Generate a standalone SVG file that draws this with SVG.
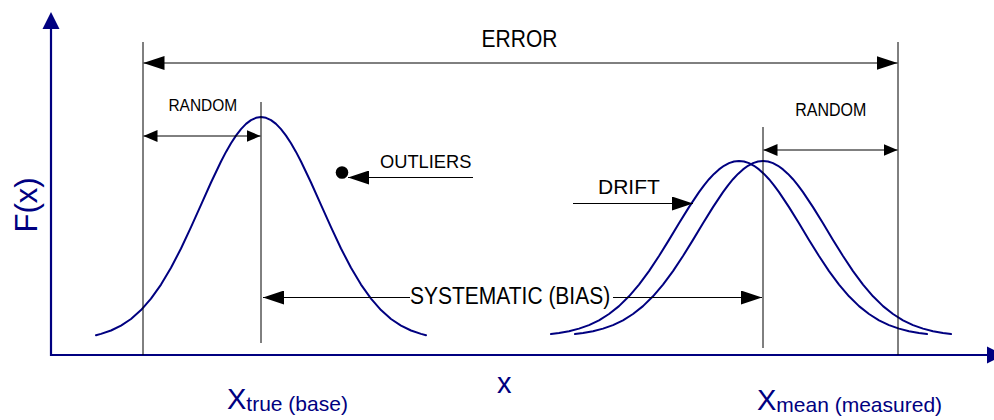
<svg xmlns="http://www.w3.org/2000/svg" xmlns:xlink="http://www.w3.org/1999/xlink" width="994" height="420" viewBox="0 0 994 420">
  <style>
    .lbl { font-family: "Liberation Sans", Arial, sans-serif; fill: #000; }
    .ax { font-family: "Liberation Sans", Arial, sans-serif; fill: #000080; }
    .bell { fill: none; stroke: #000080; stroke-width: 2; stroke-linejoin: round; stroke-linecap: round; }
    .axis { fill: none; stroke: #000080; stroke-width: 2.2; }
    .dim { fill: none; stroke: #000; stroke-width: 1; }
    .big { marker-end: url(#ah); }
    .bigs { marker-start: url(#ah); marker-end: url(#ah); }
    .sm2 { marker-start: url(#as); marker-end: url(#as); }
  </style>
  <defs>
    <marker id="ah" viewBox="0 0 21 14" refX="21" refY="7" markerWidth="21" markerHeight="14" markerUnits="userSpaceOnUse" orient="auto-start-reverse">
      <path d="M0,0 L21,7 L0,14 z" fill="#000"/>
    </marker>
    <marker id="as" viewBox="0 0 14 12" refX="14" refY="6" markerWidth="14" markerHeight="12" markerUnits="userSpaceOnUse" orient="auto-start-reverse">
      <path d="M0,0 L14,6 L0,12 z" fill="#000"/>
    </marker>
    <path id="bellR" class="bell" d="M-188,334 L-180,332.9 L-170,331.2 L-160,328.6 L-150,325.1 L-140,320.3 L-130,314.0 L-120,306.1 L-110,296.3 L-100,284.6 L-90,271.1 L-80,256.0 L-70,239.9 L-60,223.3 L-50,207.1 L-40,192.1 L-35,185.3 L-30,179.2 L-25,173.9 L-20,169.4 L-15,165.8 L-10,163.1 L-5,161.5 L0,161 L5,161.5 L10,163.1 L15,165.8 L20,169.4 L25,173.9 L30,179.2 L35,185.3 L40,192.1 L50,207.1 L60,223.3 L70,239.9 L80,256.0 L90,271.1 L100,284.6 L110,296.3 L120,306.1 L130,314.0 L140,320.3 L150,325.1 L160,328.6 L170,331.2 L180,332.9 L188,334"/>
  </defs>

  <rect width="994" height="420" fill="#fff"/>

  <g id="axes">
    <line class="axis" x1="51" y1="356" x2="51" y2="27"/>
    <polygon points="51,12 42.5,29 59.5,29" fill="#000080"/>
    <line class="axis" x1="50" y1="355" x2="989" y2="355"/>
    <polygon points="1004,355 987,346.5 987,363.5" fill="#000080"/>
    <text class="ax" font-size="31" text-anchor="middle" transform="translate(37,205) rotate(-90)">F(x)</text>
    <text class="ax" x="497" y="393" font-size="29">x</text>
  </g>

  <g id="curve-true">
    <path class="bell" d="M96,335.2 L101,333.9 L111,330.5 L121,325.6 L131,319.0 L141,310.1 L151,298.7 L161,284.6 L171,267.8 L181,248.5 L191,227.2 L201,204.9 L211,182.5 L221,161.5 L226,151.9 L231,143.2 L236,135.6 L241,129.1 L246,123.9 L251,120.1 L256,117.8 L261,117 L266,117.8 L271,120.1 L276,123.9 L281,129.1 L286,135.6 L291,143.2 L296,151.9 L301,161.5 L311,182.5 L321,204.9 L331,227.2 L341,248.5 L351,267.8 L361,284.6 L371,298.7 L381,310.1 L391,319.0 L401,325.6 L411,330.5 L421,333.9 L426,335.2"/>
  </g>
  <g id="curve-drift">
    <use xlink:href="#bellR" href="#bellR" x="739" y="0"/>
  </g>
  <g id="curve-mean">
    <use xlink:href="#bellR" href="#bellR" x="763" y="0"/>
  </g>

  <g id="outlier">
    <circle cx="342" cy="172.5" r="6.3" fill="#000"/>
  </g>

  <g id="connectors">
    <line class="dim" x1="143" y1="42" x2="143" y2="355"/>
    <line class="dim" x1="261" y1="102" x2="261" y2="343"/>
    <line class="dim" x1="898" y1="42" x2="898" y2="355"/>
    <line class="dim" x1="763" y1="127" x2="763" y2="348"/>
    <line class="dim bigs" x1="143.5" y1="63" x2="897.5" y2="63"/>
    <line class="dim sm2" x1="143.5" y1="136" x2="260.5" y2="136"/>
    <line class="dim sm2" x1="763.5" y1="150" x2="897.5" y2="150"/>
    <line class="dim big" x1="473" y1="177.5" x2="348" y2="177.5"/>
    <line class="dim big" x1="573" y1="203.5" x2="693" y2="203.5"/>
    <line class="dim big" x1="410" y1="297.5" x2="263" y2="297.5"/>
    <line class="dim big" x1="613" y1="297.5" x2="762" y2="297.5"/>
  </g>

  <g id="labels">
    <text class="lbl" font-size="21" text-anchor="middle" transform="translate(519.5,46.7) scale(1,1.1)">ERROR</text>
    <text class="lbl" font-size="15.5" text-anchor="middle" transform="translate(202.8,110.8) scale(1,1.1)">RANDOM</text>
    <text class="lbl" font-size="16" text-anchor="middle" transform="translate(830.8,116) scale(1,1.1)">RANDOM</text>
    <text class="lbl" font-size="18.3" transform="translate(380,168.4) scale(1,1.05)">OUTLIERS</text>
    <text class="lbl" font-size="21" transform="translate(598,194.4) scale(1,1)">DRIFT</text>
    <text class="lbl" font-size="21" transform="translate(410,303.5) scale(1,1.1)">SYSTEMATIC (BIAS)</text>
  </g>

  <g id="x-true">
    <text class="ax" x="227" y="408.5" font-size="29">X<tspan font-size="21" dy="2.5">true (base)</tspan></text>
  </g>
  <g id="x-mean">
    <text class="ax" x="757" y="409.5" font-size="29">X<tspan font-size="21" dy="2.5">mean (measured)</tspan></text>
  </g>
</svg>
